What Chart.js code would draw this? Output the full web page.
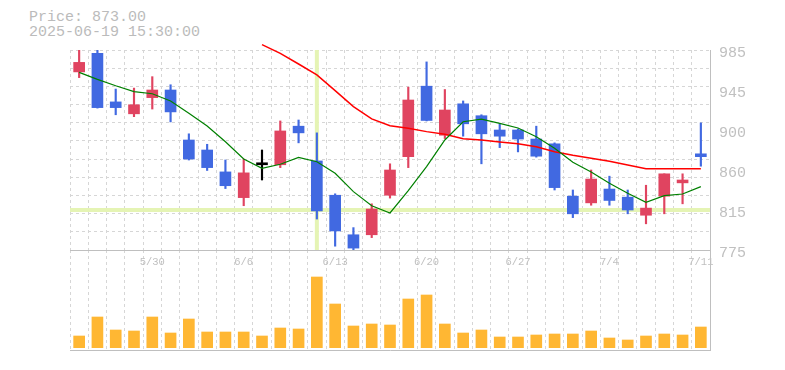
<!DOCTYPE html>
<html>
<head>
<meta charset="utf-8">
<script src="https://cdn.jsdelivr.net/npm/chart.js@4/dist/chart.umd.min.js"></script>
<style>
  html, body { margin: 0; padding: 0; background: #ffffff; }
  #wrap { position: relative; width: 785px; height: 370px; overflow: hidden; }
  #info { position: absolute; left: 29px; top: 10px; font: 15px/15px "Liberation Mono", "DejaVu Sans Mono", monospace; color: #bbbbbb; white-space: pre; }
  #priceCanvas { position: absolute; left: 0; top: 0; z-index: 2; }
  #volCanvas { position: absolute; left: 0; top: 250px; z-index: 1; }
</style>
</head>
<body>
<div id="wrap">
  <div id="info">Price: 873.00
2025-06-19 15:30:00</div>
  <canvas id="volCanvas" width="785" height="110"></canvas>
  <canvas id="priceCanvas" width="785" height="275"></canvas>
</div>
<script>
// ---- data ----
const dates = ['5/26','5/27','5/28','5/29','5/30','6/2','6/3','6/4','6/5','6/6',
  '6/9','6/10','6/11','6/12','6/13','6/16','6/17','6/18','6/19','6/20',
  '6/23','6/24','6/25','6/26','6/27','6/30','7/1','7/2','7/3','7/4',
  '7/7','7/8','7/9','7/10','7/11'];
const tickLabels = ['5/30','6/6','6/13','6/20','6/27','7/4','7/11'];

const openPrices  = [962, 981.5, 930.5, 918, 935, 943, 890.5, 880, 857, 830,
  864.5, 864.5, 905, 868.5, 832.5, 791, 791, 832.5, 873, 947,
  895.5, 928.5, 916, 901, 901, 891.5, 886.5, 831.5, 824.5, 839,
  830.5, 811.5, 831.5, 845.5, 876];
const highPrices  = [990, 988, 944, 945, 957, 948.5, 897, 886, 869.5, 870.5,
  880, 910.5, 911.5, 898, 834, 798.5, 823.5, 865.5, 946, 972.5,
  943.5, 931.5, 917, 907.5, 902, 905, 887.5, 838, 859, 852.5,
  838, 843, 855, 855, 908.5];
const lowPrices   = [956, 924, 917, 915, 923, 909.5, 869.5, 858.5, 839.5, 821.5,
  848.5, 861.5, 887.5, 807.5, 779, 774.5, 788, 829.5, 861.5, 910.5,
  892, 894.5, 865.5, 882.5, 878, 872.5, 838, 809, 822, 822,
  813, 802.5, 813, 823.5, 863];
const closePrices = [972, 924.5, 924.5, 927.5, 943, 920, 870.5, 861.5, 842.5, 856,
  864.5, 900, 898, 816, 795, 777, 818, 859, 932.5, 911,
  922, 907.5, 897, 894.5, 891.5, 873.5, 840.5, 813, 849.5, 827,
  817, 819, 855, 848.5, 873];

const maShort = [961.5, 954.2, 947.5, 941.3, 939.1, 931.5, 918.5, 905.2, 888.7, 870.6,
  860.8, 865, 872.3, 867.7, 855.5, 836.3, 821.5, 813.9, 837.3, 862.5,
  890.5, 909.7, 912.5, 908, 903.1, 894, 881.8, 867.1, 856.9, 845,
  834.5, 825.1, 832, 833.8, 841.5];
const maLong = [null, null, null, null, null, null, null, null, null, null,
  990.6, 981.5, 970.3, 958.8, 942.3, 925.5, 912.6, 905.5, 902.8, 899.3,
  896.5, 891.9, 890.5, 888.4, 886.6, 883.5, 878.2, 874.4, 871.3, 868.1,
  864.3, 860.4, 860.4, 860.4, 860.4];

const volumes = [11700, 30700, 17700, 16700, 30700, 14700, 28700, 15700, 15700, 15700,
  11700, 19700, 18700, 70700, 43700, 21700, 23700, 22700, 48700, 52700,
  23700, 14700, 17700, 10700, 10700, 12700, 13700, 13700, 16700, 9700,
  7700, 11700, 13700, 12700, 20700];

const priceTickValues = [775, 817, 859, 901, 943, 985];
const priceTickLabels = ['775', '815', '860', '900', '945', '985'];

const markerIndex = 13;
const markerPrice = 817;

// ---- styles ----
const UP = '#E04460', DOWN = '#4169E1', FLAT = '#000000';
const GRID = '#d6d6d6', AXIS = '#bfbfbf', LABEL = '#c0c0c0';
const candleColor = dates.map((d, i) => closePrices[i] > openPrices[i] ? UP : (closePrices[i] < openPrices[i] ? DOWN : FLAT));

const markerPlugin = {
  id: 'marker',
  beforeDatasetsDraw(chart) {
    const {ctx, chartArea, scales} = chart;
    const x = scales.x.getPixelForValue(markerIndex);
    const y = scales.y.getPixelForValue(markerPrice);
    ctx.save();
    ctx.strokeStyle = '#e5f4b4';
    ctx.lineWidth = 4;
    ctx.beginPath();
    ctx.moveTo(x, chartArea.top);
    ctx.lineTo(x, chartArea.bottom);
    ctx.moveTo(chartArea.left, y);
    ctx.lineTo(chartArea.right, y);
    ctx.stroke();
    ctx.restore();
  }
};

new Chart(document.getElementById('priceCanvas'), {
  type: 'bar',
  data: {
    labels: dates,
    datasets: [
      { type: 'line', label: 'MA short', data: maShort, borderColor: '#008000', borderWidth: 1.2,
        pointRadius: 0, tension: 0, fill: false, order: 0, yAxisID: 'y' },
      { type: 'line', label: 'MA long', data: maLong, borderColor: '#ff0000', borderWidth: 1.5,
        pointRadius: 0, tension: 0, fill: false, order: 0, clip: false, yAxisID: 'y' },
      { label: 'body', data: dates.map((d, i) => [openPrices[i], closePrices[i]]),
        backgroundColor: candleColor, barThickness: 11, grouped: false, minBarLength: 2, order: 1, yAxisID: 'y' },
      { label: 'wick', data: dates.map((d, i) => [lowPrices[i], highPrices[i]]),
        backgroundColor: candleColor, barThickness: 1.5, grouped: false, order: 2, yAxisID: 'y' }
    ]
  },
  options: {
    responsive: false, animation: false, devicePixelRatio: 1,
    layout: { padding: { left: 70, top: 50, right: 0, bottom: 0 } },
    plugins: { legend: { display: false }, tooltip: { enabled: false } },
    scales: {
      x: {
        type: 'category', offset: true,
        grid: { offset: true, color: GRID, drawTicks: false, borderDash: [3, 3] },
        border: { display: true, color: AXIS, width: 1, dash: [3, 3] },
        ticks: { autoSkip: false, maxRotation: 0, minRotation: 0, padding: 6, color: LABEL,
          font: { family: 'Liberation Mono', size: 10.5 },
          callback: (v, i) => tickLabels.includes(dates[i]) ? dates[i] : '' },
        afterFit: s => { s.height = 25; }
      },
      y: {
        position: 'right', min: 775, max: 985,
        grid: { display: false, drawTicks: false },
        border: { display: true, color: AXIS, width: 1 },
        afterBuildTicks: s => { s.ticks = priceTickValues.map(v => ({ value: v })); },
        ticks: { color: LABEL, padding: 9, labelOffset: 3,
          font: { family: 'Liberation Mono', size: 15 },
          callback: (v) => priceTickLabels[priceTickValues.indexOf(v)] },
        afterFit: s => { s.width = 75; }
      },
      yg: {
        position: 'left', min: 0, max: 11,
        ticks: { display: false, stepSize: 1 },
        grid: { color: GRID, drawTicks: false, borderDash: [3, 3] },
        border: { display: false, dash: [3, 3] },
        afterFit: s => { s.width = 0; }
      }
    }
  },
  plugins: [markerPlugin]
});

new Chart(document.getElementById('volCanvas'), {
  type: 'bar',
  data: {
    labels: dates,
    datasets: [
      { label: 'volume', data: volumes, backgroundColor: '#ffb733', barThickness: 11 }
    ]
  },
  options: {
    responsive: false, animation: false, devicePixelRatio: 1,
    layout: { padding: { left: 70, top: 0, right: 0, bottom: 0 } },
    plugins: { legend: { display: false }, tooltip: { enabled: false } },
    scales: {
      x: {
        type: 'category', offset: true,
        grid: { offset: true, color: GRID, drawTicks: false, borderDash: [3, 3] },
        border: { display: true, color: AXIS, width: 1, dash: [3, 3] },
        ticks: { display: false },
        afterFit: s => { s.height = 10; }
      },
      y: {
        position: 'right', min: -2300, max: 97700,
        grid: { display: false, drawTicks: false },
        border: { display: true, color: AXIS, width: 1 },
        ticks: { display: false },
        afterFit: s => { s.width = 75; }
      }
    }
  }
});
</script>
</body>
</html>
